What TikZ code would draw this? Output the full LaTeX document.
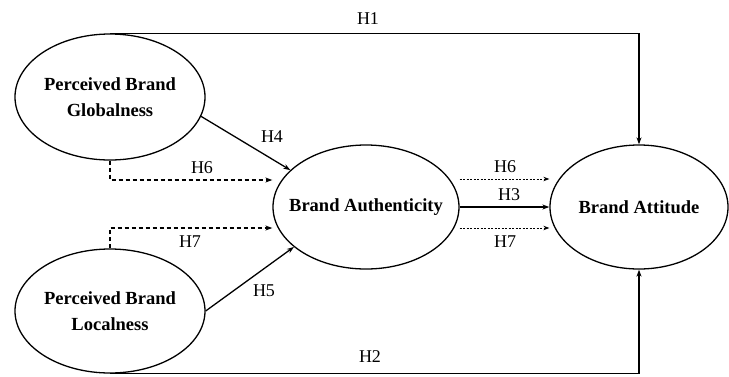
\documentclass[tikz,border=0pt]{standalone}
\usepackage{fontspec}
\setmainfont{Liberation Serif}
\usetikzlibrary{shapes.geometric, arrows.meta}

\begin{document}
\begin{tikzpicture}[x=1pt, y=-1pt,
    construct/.style={draw, ellipse, line width=1.3pt, inner sep=0pt, align=center,
      font=\fontsize{18.5}{26}\selectfont\bfseries},
    hyp/.style={font=\fontsize{18}{20}\selectfont},
    link/.style={-{Stealth[length=7pt,width=5pt]}, line width=1.3pt},
    medlink/.style={link, dash pattern=on 4pt off 3pt},
    thinlink/.style={-{Stealth[length=6pt,width=4.5pt]}, line width=0.9pt, dash pattern=on 2pt off 1.5pt}]
  \useasboundingbox (0,0) rectangle (729,376);

  % Constructs
  \node [construct, minimum width=190pt, minimum height=126pt] (glob) at (110,97) {Perceived Brand\\Globalness};
  \node [construct, minimum width=190pt, minimum height=124pt] (loc) at (110,311) {Perceived Brand\\Localness};
  \node [construct, inner xsep=-12pt, minimum width=186pt, minimum height=124pt] (auth) at (366,207) {Brand Authenticity};
  \node [construct, minimum width=178pt, minimum height=124pt] (att) at (639,207) {Brand Attitude};

  % Direct effects
  \draw [link] (glob.north) -| (att.north);
  \draw [link] (loc.south) -| (att.south);
  \draw [link] (glob.-12) -- (auth.154);
  \draw [link] (loc.east) -- (auth.209);
  \draw [link] (auth.east) -- (att.west);

  % Moderation paths
  \draw [medlink] (glob.south) |- ([yshift=27pt]auth.west);
  \draw [medlink] (loc.north) |- ([yshift=-21pt]auth.west);
  \draw [thinlink] ([yshift=28pt]auth.east) -- ([yshift=28pt]att.west);
  \draw [thinlink] ([yshift=-21pt]auth.east) -- ([yshift=-21pt]att.west);

  % Labels
  \node [hyp] (h1) at (368,19) {H1};
  \node [hyp] (h2) at (370,357) {H2};
  \node [hyp] (h3) at (509,195) {H3};
  \node [hyp] (h4) at (272,137) {H4};
  \node [hyp] (h5) at (264,291) {H5};
  \node [hyp] (h6a) at (202,168) {H6};
  \node [hyp] (h7a) at (190,242) {H7};
  \node [hyp] (h6b) at (505,167) {H6};
  \node [hyp] (h7b) at (505,242) {H7};
\end{tikzpicture}
\end{document}
